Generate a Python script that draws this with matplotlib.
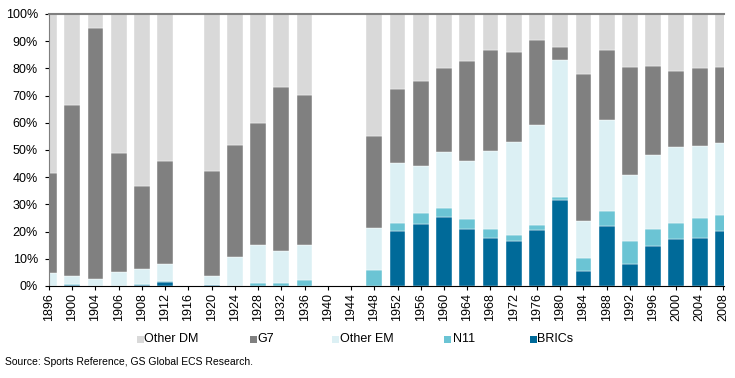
import numpy as np
import matplotlib
matplotlib.use("Agg")
import matplotlib.pyplot as plt
from matplotlib.patches import Rectangle

plt.rcParams["font.family"] = ["Liberation Sans", "DejaVu Sans"]

years = ["1896", "1900", "1904", "1906", "1908", "1912", "1916", "1920", "1924",
         "1928", "1932", "1936", "1940", "1944", "1948", "1952", "1956", "1960",
         "1964", "1968", "1972", "1976", "1980", "1984", "1988", "1992", "1996",
         "2000", "2004", "2008"]

# cumulative tops (%)
brics_top = [0, 0.5, 0, 0, 0.5, 1.5, 0, 0.3, 0, 0, 0, 0, 0, 0, 0,
             20.2, 22.8, 25.2, 21.1, 17.8, 16.7, 20.6, 31.7, 5.6, 22.2, 8.1, 14.8, 17.1, 17.8, 20.2]
n11_top = [0, 0.8, 0, 0, 0.8, 1.8, 0, 0.5, 0, 1.2, 1.2, 2.3, 0, 0, 6.0,
           23.1, 27.0, 28.8, 24.8, 21.1, 18.8, 22.5, 32.9, 10.2, 27.6, 16.7, 20.9, 23.0, 25.0, 26.1]
oem_top = [4.9, 3.8, 2.5, 5.3, 6.3, 8.1, 0, 3.8, 10.7, 15.2, 12.8, 15.2, 0, 0, 21.2,
           45.2, 44.0, 49.1, 46.1, 49.6, 52.9, 59.3, 83.2, 23.8, 61.1, 40.9, 48.3, 51.2, 51.5, 52.5]
g7_top = [41.5, 66.7, 95.0, 49.0, 36.9, 46.0, 0, 42.1, 51.9, 60.0, 73.3, 70.3, 0, 0, 55.3,
          72.5, 75.3, 80.2, 82.8, 86.7, 86.0, 90.3, 87.7, 77.8, 86.7, 80.6, 81.0, 78.9, 80.2, 80.4]
has_data = [1, 1, 1, 1, 1, 1, 0, 1, 1, 1, 1, 1, 0, 0, 1,
            1, 1, 1, 1, 1, 1, 1, 1, 1, 1, 1, 1, 1, 1, 1]

brics = np.array(brics_top)
n11 = np.array(n11_top) - np.array(brics_top)
oem = np.array(oem_top) - np.array(n11_top)
g7 = np.array(g7_top) - np.array(oem_top)
odm = np.array(has_data) * 100.0 - np.array(g7_top)
odm[np.array(has_data) == 0] = 0

series = [("BRICs", brics, "#006a99"),
          ("N11", n11, "#6bc4d4"),
          ("Other EM", oem, "#dcf0f4"),
          ("G7", g7, "#808080"),
          ("Other DM", odm, "#d9d9d9")]
colors = {name: col for name, _, col in series}

W, H = 735, 378
fig = plt.figure(figsize=(W / 100, H / 100), dpi=100)
ax = fig.add_axes([49 / W, 1 - 286 / H, (724 - 49) / W, 272 / H])

x = np.arange(len(years))
bottom = np.zeros(len(years))
for name, vals, col in series:
    ax.bar(x, vals, width=0.68, bottom=bottom, color=col, edgecolor="white",
           linewidth=0.3, label=name)
    bottom = bottom + vals

ax.set_xlim(0, 29.05)
ax.set_ylim(0, 100)
ax.set_yticks(np.arange(0, 101, 10))
ax.set_yticklabels([f"{v}%" for v in range(0, 101, 10)], fontsize=9)
ax.set_xticks(x)
ax.set_xticklabels(years, rotation=90, fontsize=9)
ax.tick_params(axis="both", direction="out", length=3, width=0.8, pad=2)
ax.tick_params(axis="y", pad=5)
ax.spines["right"].set_visible(False)
ax.spines["top"].set_color("#7f7f7f")
ax.spines["top"].set_linewidth(1.5)
ax.spines["left"].set_color("#7f7f7f")
ax.spines["bottom"].set_color("black")

# legend drawn by hand to match the spacing of the original
leg_names = ["Other DM", "G7", "Other EM", "N11", "BRICs"]
leg_x = [140, 253, 335, 448, 533]
leg_y = 339
sq = 7
for name, lx in zip(leg_names, leg_x):
    fig.add_artist(Rectangle(((lx - sq / 2) / W, 1 - (leg_y + sq / 2) / H), sq / W, sq / H,
                             transform=fig.transFigure, facecolor=colors[name],
                             edgecolor="none"))
    fig.text((lx + sq / 2 + 1) / W, 1 - leg_y / H, name, fontsize=9,
             va="center", ha="left")

fig.text(5 / W, 1 - 362 / H, "Source: Sports Reference, GS Global ECS Research.",
         fontsize=7.5, va="center", ha="left")

fig.savefig("out.png", dpi=100)
